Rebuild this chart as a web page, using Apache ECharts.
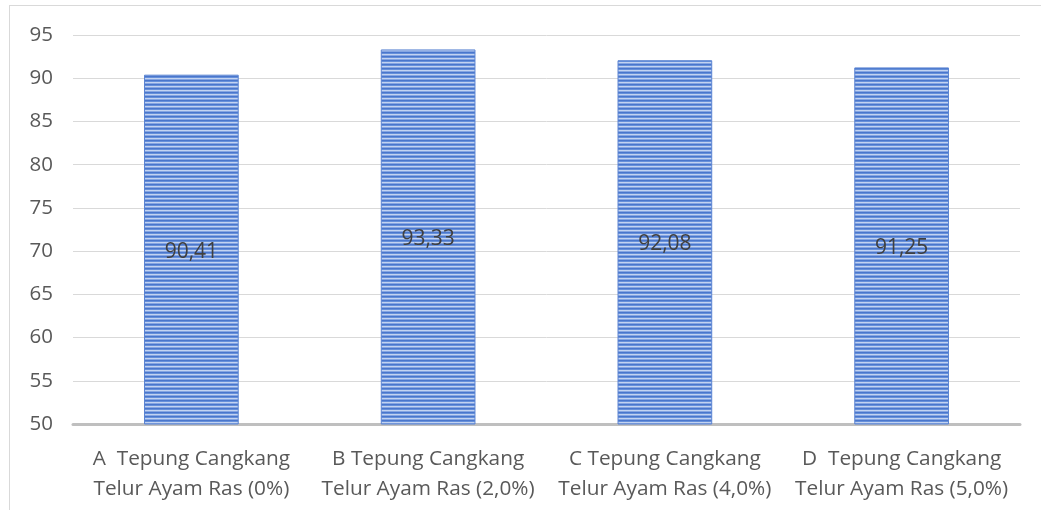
<!DOCTYPE html>
<html>
<head>
<meta charset="utf-8">
<script src="https://cdn.jsdelivr.net/npm/echarts@6/dist/echarts.min.js"></script>
<style>
  html, body { margin: 0; padding: 0; background: #fff; }
  #frame { position: absolute; left: 9px; top: 5px; width: 1040px; height: 520px; border: 1px solid #d9d9d9; box-sizing: border-box; }
  #chart { position: absolute; left: 0; top: 0; width: 1041px; height: 510px; }
</style>
</head>
<body>
<div id="frame"></div>
<div id="chart"></div>
<script>
// Categories (treatments) and their scores
const categories = [
  'A  Tepung Cangkang\nTelur Ayam Ras (0%)',
  'B Tepung Cangkang\nTelur Ayam Ras (2,0%)',
  'C Tepung Cangkang\nTelur Ayam Ras (4,0%)',
  'D  Tepung Cangkang\nTelur Ayam Ras (5,0%)'
];
const values = [90.41, 93.33, 92.08, 91.25];
const yTicks = [50, 55, 60, 65, 70, 75, 80, 85, 90, 95];

// Horizontal stripe fill for the bars
function stripePattern() {
  const c = document.createElement('canvas');
  c.width = 4; c.height = 4;
  const ctx = c.getContext('2d');
  const rows = ['#4a76cc', '#6690da', '#c3d3f1', '#86a6e2'];
  rows.forEach((col, i) => { ctx.fillStyle = col; ctx.fillRect(0, i, 4, 1); });
  return c;
}

const chart = echarts.init(document.getElementById('chart'), null, { renderer: 'canvas' });
const font = '"Open Sans", Lato, sans-serif';

chart.setOption({
  animation: false,
  grid: { left: 73, right: 21, top: 35, bottom: 86, containLabel: false },
  xAxis: {
    type: 'category',
    data: categories,
    axisLine: { lineStyle: { color: '#bfbfbf', width: 3 } },
    axisTick: { show: false },
    axisLabel: { color: '#595959', fontSize: 20.8, fontFamily: font, lineHeight: 30, margin: 20, interval: 0 }
  },
  yAxis: {
    type: 'value',
    min: yTicks[0],
    max: yTicks[yTicks.length - 1],
    interval: 5,
    axisLine: { show: false },
    axisTick: { show: false },
    splitLine: { lineStyle: { color: '#d9d9d9', width: 1 } },
    axisLabel: { color: '#595959', fontSize: 20.5, fontFamily: font, margin: 20 }
  },
  series: [{
    type: 'bar',
    data: values,
    barWidth: '40%',
    itemStyle: {
      color: { image: stripePattern(), repeat: 'repeat' },
      borderColor: '#5b84d2',
      borderWidth: 1
    },
    label: {
      show: true,
      position: 'inside',
      offset: [0, 2],
      color: '#404040',
      fontSize: 21,
      fontFamily: font,
      formatter: p => p.value.toFixed(2).replace('.', ',')
    }
  }]
});
</script>
</body>
</html>
